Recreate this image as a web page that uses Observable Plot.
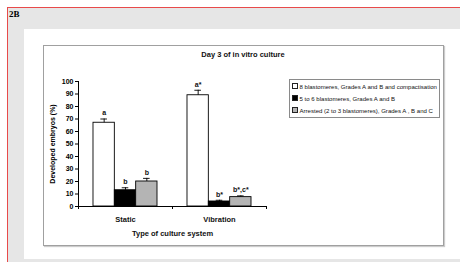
<!DOCTYPE html>
<html><head><meta charset="utf-8">
<script src="https://cdn.jsdelivr.net/npm/d3@7"></script>
<script src="https://cdn.jsdelivr.net/npm/@observablehq/plot@0.6"></script>
<style>
body{margin:0;width:460px;height:262px;position:relative;overflow:hidden;background:#fff;font-family:"Liberation Sans",Arial,sans-serif}
.abs{position:absolute}
#redtop{left:7px;top:7px;width:453px;height:1px;background:#e84a4a}
#redleft{left:7px;top:7px;width:1px;height:255px;background:#e84a4a}
#grey{left:8px;top:8px;width:452px;height:254px;background:#e6e6e6}
#panel{left:24px;top:29px;width:436px;height:230px;background:#fff}
#box{left:43px;top:45px;width:399px;height:199px;border:1px solid #a0a0a0;box-shadow:1px 1px 1px #ccc}
#tag{left:9px;top:9px;font-family:"Liberation Serif","Times New Roman",serif;font-weight:bold;font-size:9px;color:#000}
#title{left:143px;top:50px;width:200px;text-align:center;font-weight:bold;font-size:7.5px;color:#111}
#legend{left:289px;top:79px;width:149px;height:37px;border:1px solid #8a8a8a;background:#fff;font-size:6.05px;color:#111}
.row{position:absolute;left:2px;white-space:nowrap;line-height:7px}
.sw{display:inline-block;width:4px;height:4px;border:1px solid #222;margin-right:1.5px;vertical-align:-0.5px}
#chart{left:0;top:0}
</style></head><body>
<div class="abs" id="grey"></div>
<div class="abs" id="redtop"></div>
<div class="abs" id="redleft"></div>
<div class="abs" id="tag">2B</div>
<div class="abs" id="panel"></div>
<div class="abs" id="box"></div>
<div class="abs" id="title">Day 3 of in vitro culture</div>
<div class="abs" id="chart"></div>
<div class="abs" id="legend"></div>
<script>
const groups = ["Static", "Vibration"];
const series = [
  "8 blastomeres, Grades A and B and compactisation",
  "5 to 6 blastomeres, Grades A and B",
  "Arrested (2 to 3 blastomeres), Grades A , B and C"
];
const staticValues = [67, 13, 20];
const vibrationValues = [89, 4, 7.5];
const staticErrors = [3, 2, 2.5];
const vibrationErrors = [4, 1, 1];
const staticLetters = ["a", "b", "b"];
const vibrationLetters = ["a*", "b*", "b*,c*"];
const yTicks = [0, 10, 20, 30, 40, 50, 60, 70, 80, 90, 100];
const yLabel = "Developed embryos (%)";
const xLabel = "Type of culture system";

const fills = ["#ffffff", "#000000", "#b4b4b4"];
const barW = 0.227;   // bar width in group units
const capW = 0.035;   // half error cap width

const valueSets = [staticValues, vibrationValues];
const errorSets = [staticErrors, vibrationErrors];
const letterSets = [staticLetters, vibrationLetters];
const data = [];
groups.forEach((g, gi) => series.forEach((s, si) => {
  const c = gi + 0.5 + (si - 1) * barW;
  data.push({group: g, series: s, si, value: valueSets[gi][si], err: errorSets[gi][si],
    letter: letterSets[gi][si], x1: c - barW / 2, x2: c + barW / 2, xc: c});
}));

const chart = Plot.plot({
  width: 460, height: 262,
  marginLeft: 78, marginRight: 194, marginTop: 81, marginBottom: 56,
  style: {background: "transparent", fontFamily: "Liberation Sans, Arial, sans-serif", overflow: "visible"},
  x: {type: "linear", domain: [0, groups.length], axis: null},
  y: {type: "linear", domain: [0, 100], axis: null},
  marks: [
    Plot.axisY({ticks: yTicks, tickSize: 3, tickPadding: 2, fontSize: 7, fontWeight: "bold",
      label: yLabel, labelAnchor: "center", labelArrow: "none", labelOffset: 28}),
    Plot.rectY(data, {x1: "x1", x2: "x2", y1: 0, y2: "value", fill: d => fills[d.si], stroke: "#000", strokeWidth: 0.9}),
    Plot.ruleX(data, {x: "xc", y1: "value", y2: d => d.value + d.err, stroke: "#000", strokeWidth: 0.9}),
    Plot.ruleY(data, {y: d => d.value + d.err, x1: d => d.xc - capW, x2: d => d.xc + capW, stroke: "#000", strokeWidth: 0.9}),
    Plot.text(data, {x: "xc", y: d => d.value + d.err, text: "letter", dy: -6, fontSize: 7, fontWeight: "bold", fill: "#111"}),
    Plot.ruleX([0], {y1: 0, y2: 100, stroke: "#000", strokeWidth: 1}),
    Plot.ruleY([0], {x1: 0, x2: groups.length, stroke: "#000", strokeWidth: 1}),
    Plot.ruleX(d3.range(groups.length + 1), {x: d => d, y1: 0, y2: -2.4, stroke: "#000", strokeWidth: 1}),
    Plot.text(groups, {x: (d, i) => i + 0.5, y: 0, text: d => d, dy: 13, fontSize: 7.5, fontWeight: "bold", fill: "#111"}),
    Plot.text([xLabel], {x: groups.length / 2, y: 0, text: d => d, dy: 27, fontSize: 7.5, fontWeight: "bold", fill: "#111"})
  ]
});
document.getElementById("chart").appendChild(chart);

const legend = document.getElementById("legend");
series.forEach((s, i) => {
  const row = document.createElement("div");
  row.className = "row";
  row.style.top = (3 + i * 11.8) + "px";
  const sw = document.createElement("span");
  sw.className = "sw";
  sw.style.background = fills[i];
  row.appendChild(sw);
  row.appendChild(document.createTextNode(s));
  legend.appendChild(row);
});
</script>
</body></html>
